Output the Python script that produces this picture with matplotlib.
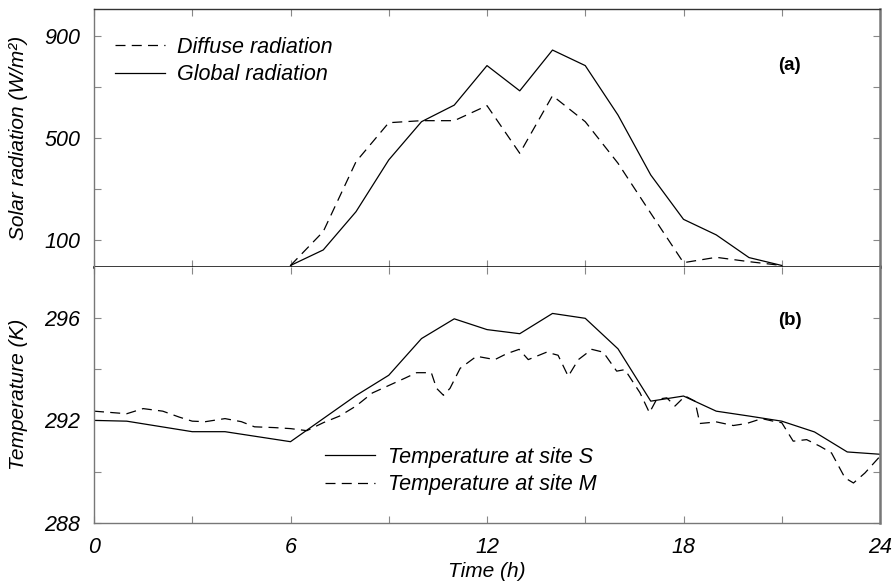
import matplotlib
matplotlib.use("Agg")
import matplotlib.pyplot as plt

plt.rcParams['font.family'] = ['Liberation Sans', 'DejaVu Sans']

# ---- data ----
rad_hours = [6, 7, 8, 9, 10, 11, 12, 13, 14, 15, 16, 17, 18, 19, 20, 21]
global_rad = [0, 61, 211, 414, 564, 629, 784, 685, 845, 784, 590, 355, 181, 120, 31, 0]
diffuse_rad = [0, 133, 407, 560, 568, 568, 627, 440, 666, 564, 401, 205, 11, 32, 15, 0]

temp_s_hours = [0, 1, 3, 4, 6, 8, 9, 10, 11, 12, 13, 14, 15, 16, 17, 18, 19, 20, 21, 22, 23, 24]
temp_s = [292.0, 291.97, 291.56, 291.56, 291.17, 292.97, 293.76, 295.19, 295.96, 295.54,
          295.38, 296.17, 295.98, 294.79, 292.75, 292.95, 292.36, 292.17, 291.97, 291.55,
          290.77, 290.68]

temp_m_hours = [0, 1, 1.5, 2.1, 2.6, 3.0, 3.4, 4.0, 4.5, 4.9, 5.5, 6.0, 6.5, 7.0, 7.5, 8.0,
                8.5, 9.0, 9.5, 9.85, 10.3, 10.46, 10.67, 10.87, 11.18, 11.68, 12.24, 12.6,
                12.98, 13.26, 13.82, 14.17, 14.48, 14.79, 15.2, 15.55, 15.96, 16.21, 16.67,
                16.96, 17.18, 17.49, 17.74, 18.05, 18.35, 18.5, 19.01, 19.52, 19.93, 20.39,
                20.74, 21.0, 21.35, 21.76, 22.17, 22.52, 22.93, 23.19, 23.54, 24.0]
temp_m = [292.36, 292.26, 292.46, 292.36, 292.13, 291.97, 291.95, 292.07, 291.95, 291.75,
          291.72, 291.68, 291.6, 291.91, 292.17, 292.56, 293.07, 293.36, 293.65, 293.86,
          293.86, 293.25, 292.98, 293.25, 294.03, 294.5, 294.37, 294.6, 294.77, 294.37,
          294.66, 294.54, 293.72, 294.37, 294.77, 294.66, 293.92, 293.98, 293.08, 292.3,
          292.82, 292.88, 292.56, 292.95, 292.75, 291.88, 291.94, 291.8, 291.88, 292.07,
          291.97, 291.91, 291.19, 291.25, 290.99, 290.73, 289.76, 289.56, 289.95, 290.6]

x_ticks = [0, 6, 12, 18, 24]
rad_ticks = [100, 500, 900]
temp_ticks = [288, 292, 296]

# ---- figure ----
fig = plt.figure(figsize=(8.92, 5.81), dpi=100)
L, R = 94 / 892, 880 / 892
top, mid, bot = 1 - 9 / 581, 1 - 266.5 / 581, 1 - 523 / 581
ax1 = fig.add_axes([L, mid, R - L, top - mid])
ax2 = fig.add_axes([L, bot, R - L, mid - bot])

lw = 0.9
dash = (8, 5)
ax1.plot(rad_hours, diffuse_rad, color='black', lw=lw, dashes=dash, label='Diffuse radiation')
ax1.plot(rad_hours, global_rad, color='black', lw=lw, label='Global radiation')
ax2.plot(temp_s_hours, temp_s, color='black', lw=lw, label='Temperature at site S')
ax2.plot(temp_m_hours, temp_m, color='black', lw=lw, dashes=dash, label='Temperature at site M')

fs = 15.5
lfs = 15
for ax in (ax1, ax2):
    ax.set_xlim(0, 24)
    ax.set_xticks(x_ticks)
    ax.set_xticks([3, 9, 15, 21], minor=True)
    ax.tick_params(which='both', direction='in', top=True, right=True, length=5,
                   color='#888888', width=0.8, labelsize=fs, pad=10)
    for s in ('left', 'right', 'top', 'bottom'):
        ax.spines[s].set_color('#777777')
        ax.spines[s].set_linewidth(1.0)

ax1.set_ylim(-4, 1006)
ax1.set_yticks(rad_ticks)
ax1.set_yticks([300, 700], minor=True)
ax1.tick_params(labelbottom=False)
ax1.spines['bottom'].set_color('black')
ax1.spines['bottom'].set_linewidth(1.8)
ax1.spines['top'].set_color('#333333')
ax1.spines['right'].set_linewidth(1.8)

ax2.set_ylim(288, 298)
ax2.set_yticks(temp_ticks)
ax2.set_yticks([290, 294], minor=True)
ax2.spines['top'].set_visible(False)
ax2.spines['right'].set_linewidth(1.8)

for ax in (ax1, ax2):
    for lab in ax.get_xticklabels() + ax.get_yticklabels():
        lab.set_fontstyle('italic')

ax1.set_ylabel('Solar radiation (W/m²)', fontsize=lfs, fontstyle='italic')
ax2.set_ylabel('Temperature (K)', fontsize=lfs, fontstyle='italic')
ax1.yaxis.set_label_coords(-0.084, 0.5)
ax2.yaxis.set_label_coords(-0.084, 0.5)
ax2.set_xlabel('Time (h)', fontsize=lfs, fontstyle='italic', labelpad=3)

ax1.text(0.885, 0.782, '(a)', transform=ax1.transAxes, fontsize=13.5, fontweight='bold',
         ha='center', va='center')
ax2.text(0.885, 0.791, '(b)', transform=ax2.transAxes, fontsize=13.5, fontweight='bold',
         ha='center', va='center')

leg_kw = dict(frameon=False, fontsize=fs, handlelength=2.3, handletextpad=0.6,
              labelspacing=0.3, borderpad=0.0, borderaxespad=0.0, loc='center left')
leg1 = ax1.legend(bbox_to_anchor=(0.0267, 0.798), **leg_kw)
leg2 = ax2.legend(bbox_to_anchor=(0.294, 0.203), **leg_kw)
for leg in (leg1, leg2):
    for t in leg.get_texts():
        t.set_fontstyle('italic')

fig.savefig('out.png', dpi=100)
